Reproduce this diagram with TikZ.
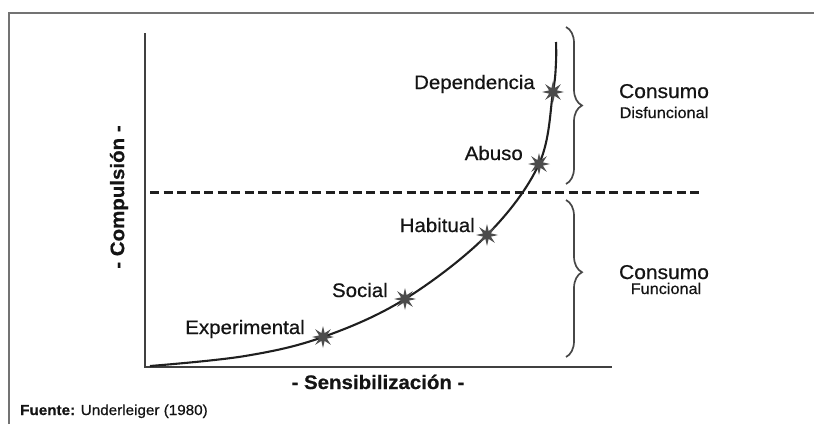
\documentclass[tikz,border=0pt]{standalone}
\usepackage{fontspec}
\setmainfont{Liberation Sans}[FakeStretch=1.05,FakeBold=0.6]
\usetikzlibrary{shapes.geometric,decorations.pathreplacing}
\begin{document}
\begin{tikzpicture}[x=1pt,y=-1pt,
  framestyle/.style={draw=black!55,line width=1.6},
  axisstyle/.style={draw=black!75,line width=2.8},
  curvestyle/.style={draw=black!88,line width=2.1},
  dashstyle/.style={draw=black!88,line width=3,dash pattern=on 9 off 4.5},
  bracestyle/.style={draw=black!72,line width=1.7,decorate,decoration={brace,amplitude=16}},
  starmark/.style={shape=star,star points=8,star point ratio=2.6,minimum size=22,inner sep=0,fill=black!70,draw=none},
  lbl/.style={font=\fontsize{19.5}{21}\selectfont,text=black!92,inner sep=0,anchor=base east},
  cons/.style={font=\fontsize{20}{22}\selectfont,text=black!92,inner sep=0,anchor=base},
  subl/.style={font=\fontsize{15.5}{17}\selectfont,text=black!92,inner sep=0,anchor=base},
  axlbl/.style={font=\bfseries\fontsize{19.5}{21}\selectfont,text=black!92,inner sep=0}
]
\useasboundingbox (0,0) rectangle (814,424);
% frame
\coordinate (fTL) at (9,13);
\coordinate (fTR) at (814,13);
\coordinate (fBL) at (9,424);
\draw[framestyle] (fBL) -- (fTL) -- (fTR);
% axes
\coordinate (ytop) at (145,33);
\coordinate (orig) at (145,367);
\coordinate (xend) at (612,367);
\draw[axisstyle] (ytop) -- (orig) -- (xend);
% dashed threshold
\coordinate (dL) at (150,192);
\coordinate (dR) at (700,192);
\draw[dashstyle] (dL) -- (dR);
% star positions
\coordinate (pE) at (323,337);
\coordinate (pS) at (405,299);
\coordinate (pH) at (487,235);
\coordinate (pA) at (539,164);
\coordinate (pD) at (553,92);
\coordinate (cStart) at (150,366);
\coordinate (cTop) at (556,42);
% curve
\draw[curvestyle] plot[smooth,tension=0.6] coordinates {(cStart) (245,356) (pE) (pS) (pH) (pA) (pD) (556,62) (cTop)};
% stars
\node[starmark] (sE) at (pE) {};
\node[starmark] (sS) at (pS) {};
\node[starmark] (sH) at (pH) {};
\node[starmark] (sA) at (pA) {};
\node[starmark] (sD) at (pD) {};
% labels
\node[lbl] (lE) at (305,334) {Experimental};
\node[lbl] (lS) at (388,297) {Social};
\node[lbl] (lH) at (475,232) {Habitual};
\node[lbl] (lA) at (523,160) {Abuso};
\node[lbl] (lD) at (535,89) {Dependencia};
% braces
\coordinate (b1t) at (566,27);
\coordinate (b1b) at (566,184);
\coordinate (b2t) at (566,200);
\coordinate (b2b) at (566,357);
\draw[bracestyle] (b1t) -- (b1b);
\draw[bracestyle,decoration={aspect=0.46}] (b2t) -- (b2b);
% brace texts
\node[cons] (c1) at (664,98) {Consumo};
\node[subl] (c1b) at (664,118) {Disfuncional};
\node[cons] (c2) at (664,279) {Consumo};
\node[subl] (c2b) at (666,294) {Funcional};
% axis labels
\node[axlbl,rotate=90] (yl) at (119,197) {- Compulsión -};
\node[axlbl,anchor=base] (xl) at (378,389) {- Sensibilización -};
% source
\node[font=\fontsize{14.5}{16}\selectfont,text=black!92,inner sep=0,anchor=base west] (src) at (20,415) {\textbf{Fuente:} Underleiger (1980)};
\end{tikzpicture}
\end{document}
